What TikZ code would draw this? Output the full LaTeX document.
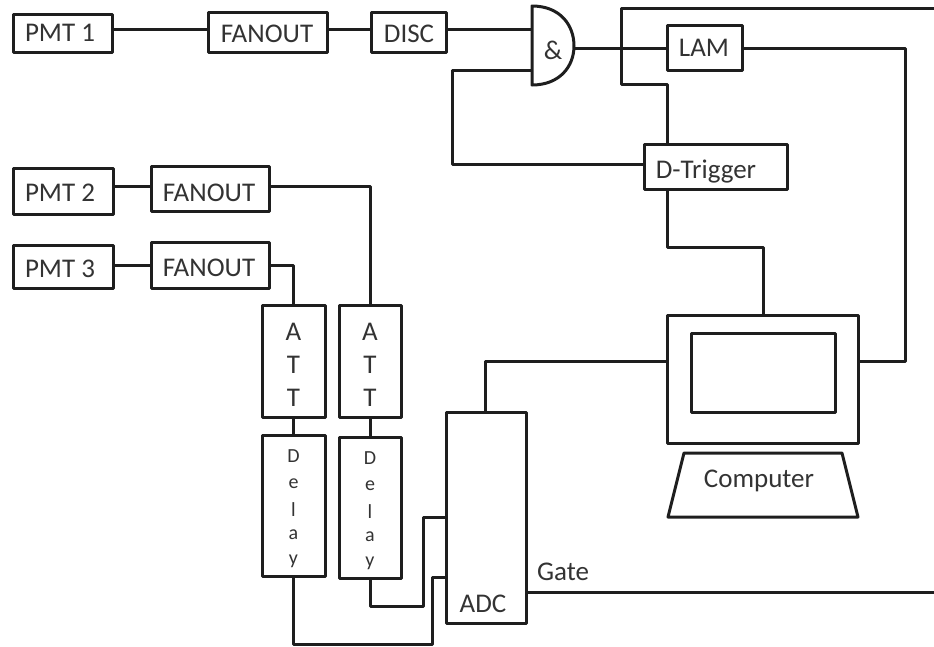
\documentclass[tikz,border=0pt]{standalone}
\usepackage{fontspec}
\setmainfont{Carlito}
\definecolor{ln}{HTML}{1E1E1E}
\definecolor{tx}{HTML}{333333}
\tikzset{
  x=1pt,y=-1pt,
  box/.style={draw=ln,line width=3pt,line join=round,inner sep=0pt,outer sep=0pt},
  wire/.style={draw=ln,line width=3pt,line join=round},
  lbl/.style={inner sep=0pt,outer sep=0pt,text=tx,font=\fontsize{27}{27}\selectfont},
  sm/.style={inner sep=0pt,outer sep=0pt,text=tx,font=\fontsize{20}{20}\selectfont}
}
\newcommand\bx[5]{\node[box,minimum width={(#4-#2)*1pt},minimum height={(#5-#3)*1pt}] (#1) at ({(#2+#4)/2},{(#3+#5)/2}) {};}
\begin{document}
\begin{tikzpicture}
\useasboundingbox (0,0) rectangle (934,646);
\bx{pa}{13}{14}{112}{52}
\bx{fa}{208}{12}{327}{52}
\bx{disc}{371}{12}{446}{52}
\bx{lam}{667}{25}{742}{70}
\bx{dt}{644}{144}{787}{189}
\bx{pb}{13}{168}{113}{214}
\bx{fb}{151}{166}{269}{211}
\bx{pc}{13}{245}{113}{288}
\bx{fc}{151}{242}{269}{288}
\bx{atta}{262}{305}{325}{417}
\bx{attb}{339}{305}{401}{417}
\bx{dla}{262}{435}{325}{576}
\bx{dlb}{339}{437}{401}{578}
\bx{adc}{446}{412}{526}{623}
\bx{comp}{667}{315}{858}{443}
\bx{scr}{691}{333}{835}{412}
\node[lbl] (pal) at (60,33) {PMT 1};
\node[lbl] (fal) at (267,34) {FANOUT};
\node[lbl] (dil) at (409,34) {DISC};
\node[lbl] (laml) at (704,48) {LAM};
\node[lbl] (dtl) at (706,172) {D-Trigger};
\node[lbl] (pbl) at (60,193) {PMT 2};
\node[lbl] (fbl) at (209,193) {FANOUT};
\node[lbl] (pcl) at (60,269) {PMT 3};
\node[lbl] (fcl) at (209,268) {FANOUT};
\node[lbl] (adcl) at (483,604) {ADC};
\node[lbl] (cl) at (759,481) {Computer};
\node[lbl] (gl) at (563,572) {Gate};
\node[lbl] (amp) at (553,50) {\&};
\foreach \n/\x in {a/293.5,b/370}{
  \node[lbl] (ta\n) at (\x,332) {A};
  \node[lbl] (tb\n) at (\x,365) {T};
  \node[lbl] (tc\n) at (\x,398) {T};
}
\foreach \n/\x/\d in {a/293.5/0,b/370/2}{
  \node[sm] (d\n) at (\x,456+\d) {D};
  \node[sm] (e\n) at (\x,484+\d) {e};
  \node[sm] (l\n) at (\x,510+\d) {l};
  \node[sm] (m\n) at (\x,535+\d) {a};
  \node[sm] (y\n) at (\x,561+\d) {y};
}
% AND gate
\coordinate (gt) at (532,6);
\coordinate (gb) at (532,85);
\coordinate (gr) at (574,46);
\draw[wire] (gt) .. controls (560,6) and (574,25) .. (gr) .. controls (574,66) and (560,85) .. (gb) -- cycle;
% computer stand
\coordinate (s1) at (684,453);
\coordinate (s2) at (842,453);
\coordinate (s3) at (858,517);
\coordinate (s4) at (668,517);
\draw[wire] (s1) -- (s2) -- (s3) -- (s4) -- cycle;
% free ends
\coordinate (ex1) at (934,8);
\coordinate (ex2) at (934,592);
% wires
\draw[wire] (pa.east |- 0,29) -- (fa.west |- 0,29);
\draw[wire] (fa.east |- 0,29) -- (disc.west |- 0,29);
\draw[wire] (disc.east |- 0,29) -- (gt |- 0,29);
\draw[wire] (gr |- 0,48) -- (lam.west |- 0,48);
\draw[wire] (gb |- 0,70) -- (452,70) -- (452,164) -- (dt.west |- 0,164);
\draw[wire] (ex1) -- (621,8) -- (621,84) -- (667,84) -- (dt.north -| 667,0);
\draw[wire] (lam.east |- 0,48) -- (905,48) -- (905,361) -- (comp.east |- 0,361);
\draw[wire] (dt.south -| 667,0) -- (667,247) -- (763,247) -- (comp.north -| 763,0);
\draw[wire] (comp.west |- 0,361) -- (485,361) -- (adc.north -| 485,0);
\draw[wire] (pb.east |- 0,186) -- (fb.west |- 0,186);
\draw[wire] (pc.east |- 0,265) -- (fc.west |- 0,265);
\draw[wire] (fb.east |- 0,186) -- (370,186) -- (attb.north);
\draw[wire] (fc.east |- 0,265) -- (293.5,265) -- (atta.north);
\draw[wire] (atta.south) -- (dla.north);
\draw[wire] (attb.south) -- (dlb.north);
\draw[wire] (dla.south) -- (293.5,644) -- (432,644) -- (432,577) -- (adc.west |- 0,577);
\draw[wire] (dlb.south) -- (370,606) -- (423,606) -- (423,517) -- (adc.west |- 0,517);
\draw[wire] (adc.east |- 0,592) -- (ex2);
\end{tikzpicture}
\end{document}
